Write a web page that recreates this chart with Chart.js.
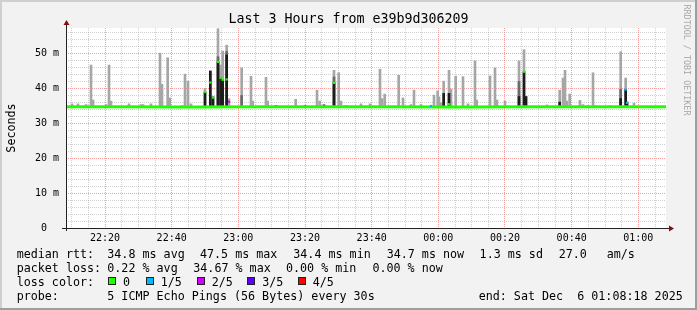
<!DOCTYPE html>
<html>
<head>
<meta charset="utf-8">
<script src="https://cdn.jsdelivr.net/npm/chart.js@4/dist/chart.umd.min.js"></script>
<style>
  html, body { margin: 0; padding: 0; background: #fff; }
  #wrap { position: relative; width: 697px; height: 310px; overflow: hidden;
          font-family: 'DejaVu Sans Mono', monospace; color: #000; }
  #wrap canvas { position: absolute; left: 0; top: 0; }
  .t { position: absolute; white-space: pre; font-size: 11.7px; line-height: 14px; }
  .box { position: absolute; width: 8px; height: 8px; box-sizing: border-box; border: 1px solid #222; }
  #title { position: absolute; left: 0; width: 697px; top: 11px; text-align: center;
           font-size: 13.3px; line-height: 16px; white-space: pre; }
  #ylab { position: absolute; left: -29px; top: 121px; width: 80px; text-align: center;
          font-size: 11.7px; line-height: 14px; transform: rotate(-90deg); }
  #credit { position: absolute; left: 624px; top: 55px; width: 126px; text-align: center;
            font-size: 8.4px; line-height: 10px; color: #a8a8a8; transform: rotate(90deg); white-space: pre; }
</style>
</head>
<body>
<div id="wrap">
  <canvas id="chart" width="697" height="310"></canvas>
  <div id="title">Last 3 Hours from e39b9d306209</div>
  <div id="ylab">Seconds</div>
  <div id="credit">RRDTOOL / TOBI OETIKER</div>
  <div id="legend"></div>
</div>
<script>
// times are minutes after 22:00, rtt in ms
const startMin = 8.3      // 22:08:18
const endMin = 188.3      // 01:08:18

const timeTicks = [20, 40, 60, 80, 100, 120, 140, 160, 180]
const timeLabels = ['22:20', '22:40', '23:00', '23:20', '23:40', '00:00', '00:20', '00:40', '01:00']
const rttTicks = [0, 10, 20, 30, 40, 50]
const rttLabels = ['0', '10 m', '20 m', '30 m', '40 m', '50 m']

// light smoke (highest ping)
const smokeAt = [10.1, 11.9, 14.3, 15.8, 16.4, 20.3, 21.2, 21.8, 27.2, 30.8, 31.4, 33.8, 36.5, 37.1, 38.8, 39.4, 43.1, 44.0, 44.9, 45.8,
  50.0, 51.6, 52.4, 53.9, 54.7, 55.3, 56.5, 57.2, 61.0, 63.8, 64.3, 68.3, 68.8, 71.3, 77.2, 80.0,
  83.6, 84.4, 85.7, 88.7, 90.1, 90.8, 92.3, 96.8, 99.5, 102.5, 103.1, 103.9, 108.1, 109.4, 111.8, 112.7, 114.8, 118.7, 119.8,
  120.2, 120.8, 121.6, 123.2, 123.8, 125.2, 127.4, 128.9, 131.0, 131.5, 135.5, 137.0, 137.6, 140.0, 144.2, 145.7, 146.3, 152.6, 156.4,
  157.4, 158.0, 158.5, 159.4, 162.5, 163.4, 164.9, 166.4, 167.0, 171.5, 174.7, 176.2, 176.6, 178.7]
const smokeTop = [35.5, 35.5, 35.3, 46.6, 36.6, 35.3, 46.6, 36.3, 35.5, 35.3, 35.3, 35.5, 50.0, 41.1, 48.7, 37.2, 35.0, 44.0, 42.0, 35.5,
  39.9, 44.9, 37.5, 57.0, 46.6, 50.6, 52.3, 37.0, 45.8, 43.4, 36.3, 43.1, 36.3, 35.0, 36.8, 35.0,
  39.4, 36.3, 35.2, 45.1, 44.4, 36.3, 34.9, 35.5, 35.5, 45.4, 37.0, 38.3, 43.7, 37.2, 35.3, 39.4, 35.3, 38.0, 39.2,
  37.5, 35.8, 42.0, 45.1, 39.7, 43.4, 43.3, 35.5, 47.8, 36.6, 43.5, 45.8, 36.6, 36.3, 47.8, 51.0, 37.6, 35.2, 39.4,
  42.9, 45.1, 36.3, 38.3, 36.5, 35.3, 35.0, 44.4, 35.0, 35.0, 50.4, 42.9, 36.0, 35.7]

// mid smoke
const innerAt = [53.9, 56.5, 61.0, 88.7, 144.2, 174.7]
const innerTop = [49.0, 50.5, 37.9, 43.2, 41.9, 39.7]

// dark smoke near the median
const coreAt = [50.0, 51.6, 52.4, 53.9, 54.7, 55.3, 56.5, 71.3, 80.0, 85.7, 88.7, 92.3, 121.6, 123.2, 144.2, 145.7, 146.3, 156.4, 174.7, 176.2, 176.6]
const coreTop = [38.9, 44.9, 37.5, 47.5, 43.0, 42.4, 49.5, 35.0, 35.0, 35.2, 41.5, 34.9, 38.5, 38.5, 37.6, 44.7, 37.6, 36.0, 37.0, 39.6, 36.0]

// median rtt line
const rttAt = [8.3, 25, 45, 65, 85, 105, 125, 145, 165, 188.3]
const rttMedian = [34.7, 34.7, 34.6, 34.7, 34.7, 34.7, 34.6, 34.7, 34.7, 34.7]

// raised medians, no loss
const medianAt = [50.0, 51.6, 52.4, 53.9, 54.7, 55.3, 56.5, 88.7, 123.2, 145.7]
const medianRtt = [38.9, 41.6, 37.3, 47.5, 42.9, 42.4, 42.5, 41.5, 35.4, 44.7]

// medians with packet loss
const lossAt = [57.2, 117.8, 176.2, 176.6]
const lossRtt = [36.1, 34.9, 39.6, 35.8]
const lossLevel = [2, 1, 1, 1]

const lossNames = ['0', '1/5', '2/5', '3/5', '4/5']
const lossColors = ['#20ff00', '#00b8ff', '#d400ff', '#5b00ff', '#ff0000']

const smokeBase = 34.5
const minorGrid = 'rgba(150,150,150,0.45)'
const majorGrid = 'rgba(240,60,60,0.5)'

// legend text
const legendRows = [
  [[16.7, 'median rtt:'], [107.3, '34.8 ms avg'], [200, '47.5 ms max'], [293.3, '34.4 ms min'], [386.7, '34.7 ms now'], [479.6, '1.3 ms sd'], [558.7, '27.0'], [606.7, 'am/s']],
  [[16.7, 'packet loss:'], [107.3, '0.22 % avg'], [193.3, '34.67 % max'], [286, '0.00 % min'], [372.4, '0.00 % now']],
  [[16.7, 'loss color:']],
  [[16.7, 'probe:'], [107.3, '5 ICMP Echo Pings (56 Bytes) every 30s'], [478.7, 'end: Sat Dec  6 01:08:18 2025']]
]
const lossBoxX = [108, 145.7, 196.7, 247.3, 297.7]

const legend = document.getElementById('legend')
legendRows.forEach((row, i) => {
  row.forEach(([x, txt]) => {
    let d = document.createElement('div')
    d.className = 't'
    d.style.left = x + 'px'
    d.style.top = (247 + i * 14) + 'px'
    d.textContent = txt
    legend.appendChild(d)
  })
})
lossNames.forEach((name, i) => {
  let b = document.createElement('div')
  b.className = 'box'
  b.style.left = lossBoxX[i] + 'px'
  b.style.top = '277px'
  b.style.background = lossColors[i]
  legend.appendChild(b)
  let d = document.createElement('div')
  d.className = 't'
  d.style.left = (lossBoxX[i] + 15) + 'px'
  d.style.top = '275px'
  d.textContent = name
  legend.appendChild(d)
})

const pts = (xs, ys) => xs.map((x, i) => ({ x: x, y: ys[i] }))
const bars = (xs, ys) => xs.map((x, i) => ({ x: x, y: [smokeBase, ys[i]] }))

const frame = {
  id: 'frame',
  beforeDraw(chart) {
    const { ctx, chartArea: a, width, height } = chart
    ctx.save()
    ctx.fillStyle = '#f2f2f2'
    ctx.fillRect(0, 0, width, height)
    ctx.fillStyle = '#cfcfcf'
    ctx.fillRect(0, 0, width, 2)
    ctx.fillRect(0, 0, 2, height)
    ctx.fillStyle = '#9e9e9e'
    ctx.fillRect(0, height - 2, width, 2)
    ctx.fillRect(width - 2, 0, 2, height)
    ctx.fillStyle = '#fff'
    ctx.fillRect(a.left, a.top, a.right - a.left, a.bottom - a.top)
    ctx.restore()
  },
  afterDraw(chart) {
    const { ctx, chartArea: a } = chart
    ctx.save()
    ctx.strokeStyle = '#222'
    ctx.lineWidth = 1
    ctx.beginPath()
    ctx.moveTo(a.left + 0.5, a.bottom + 3)
    ctx.lineTo(a.left + 0.5, a.top - 4)
    ctx.moveTo(a.left - 4, a.bottom + 0.5)
    ctx.lineTo(a.right + 4, a.bottom + 0.5)
    ctx.stroke()
    ctx.fillStyle = '#7f1010'
    ctx.beginPath()
    ctx.moveTo(a.left - 2.5, a.top - 3)
    ctx.lineTo(a.left + 3.5, a.top - 3)
    ctx.lineTo(a.left + 0.5, a.top - 8)
    ctx.closePath()
    ctx.fill()
    ctx.beginPath()
    ctx.moveTo(a.right + 3, a.bottom - 2.5)
    ctx.lineTo(a.right + 3, a.bottom + 3.5)
    ctx.lineTo(a.right + 8, a.bottom + 0.5)
    ctx.closePath()
    ctx.fill()
    ctx.restore()
  }
}

Chart.defaults.font.family = "'DejaVu Sans Mono', monospace"
Chart.defaults.color = '#000'

const barStyle = { type: 'bar', barThickness: 2, grouped: false, borderWidth: 0, borderSkipped: false }

new Chart(document.getElementById('chart'), {
  type: 'bar',
  data: {
    datasets: [
      { type: 'scatter', data: pts(lossAt, lossRtt), pointStyle: 'rect', pointRadius: 1.6, pointBorderWidth: 0,
        pointBackgroundColor: lossLevel.map(l => lossColors[l]), order: 0 },
      { type: 'scatter', data: pts(medianAt, medianRtt), pointStyle: 'rect', pointRadius: 1.6, pointBorderWidth: 0,
        pointBackgroundColor: lossColors[0], order: 1 },
      { type: 'line', data: pts(rttAt, rttMedian), borderColor: lossColors[0], borderWidth: 3, pointRadius: 0, tension: 0, order: 2 },
      Object.assign({ data: bars(coreAt, coreTop), backgroundColor: '#1c1c1c', order: 3 }, barStyle),
      Object.assign({ data: bars(innerAt, innerTop), backgroundColor: '#6a6a6a', order: 4 }, barStyle),
      Object.assign({ data: bars(smokeAt, smokeTop), backgroundColor: '#a6a6a6', order: 5 }, barStyle)
    ]
  },
  options: {
    responsive: false,
    animation: false,
    layout: { padding: { left: 0, right: 31, top: 28, bottom: 0 } },
    plugins: { legend: { display: false }, tooltip: { enabled: false }, title: { display: false } },
    scales: {
      x: {
        type: 'linear', min: startMin, max: endMin, offset: false,
        grid: { offset: false, drawTicks: false, lineWidth: 1,
          color: c => (c.tick && c.tick.value % 20 === 0) ? majorGrid : minorGrid },
        border: { display: false, dash: [1, 1] },
        afterBuildTicks: s => {
          let t = []
          for (let v = 10; v < endMin; v += 5) t.push({ value: v })
          s.ticks = t
        },
        ticks: { autoSkip: false, maxRotation: 0, padding: 4, font: { size: 10 },
          callback: v => { let i = timeTicks.indexOf(v); return i < 0 ? '' : timeLabels[i] } },
        afterFit: s => { s.height = 82 }
      },
      y: {
        min: 0, max: 57.2,
        grid: { drawTicks: false, lineWidth: 1,
          color: c => (c.tick && c.tick.value % 10 === 0) ? majorGrid : minorGrid },
        border: { display: false, dash: [1, 1] },
        afterBuildTicks: s => {
          let t = []
          for (let v = 0; v <= 56; v += 2) t.push({ value: v })
          s.ticks = t
        },
        ticks: { autoSkip: false, padding: 7, font: { size: 10 },
          callback: v => { let i = rttTicks.indexOf(v); return i < 0 ? '' : rttLabels[i].padEnd(i === 0 ? 3 : 4) } },
        afterFit: s => { s.width = 66 }
      }
    }
  },
  plugins: [frame]
})
</script>
</body>
</html>
